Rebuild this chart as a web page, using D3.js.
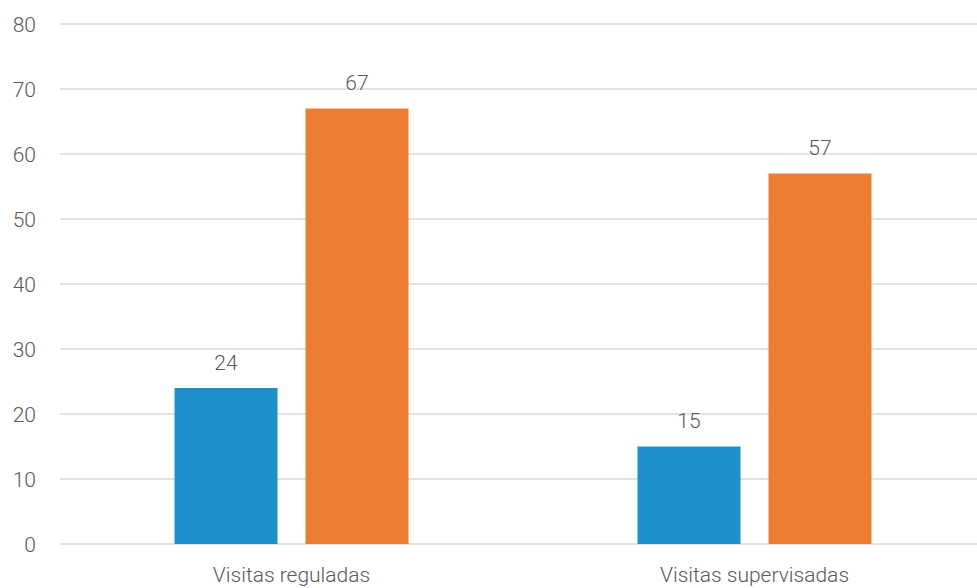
<!DOCTYPE html>
<html><head><meta charset="utf-8">
<script src="https://cdn.jsdelivr.net/npm/d3@7"></script>
<style>body{margin:0;background:#fff}svg{display:block}</style>
</head><body>
<svg id="c" width="977" height="588"></svg>
<script>
const categories = ["Visitas reguladas", "Visitas supervisadas"];
const series1 = [24, 15];
const series2 = [67, 57];
const yTicks = [0, 10, 20, 30, 40, 50, 60, 70, 80];
const colors = ["#1f90c9", "#ed7d31"];

(function () {
const svg = d3.select("#c");
const mLeft = 60, mRight = 986, mTop = 24, mBottom = 544;
const x = d3.scaleBand().domain(categories).range([mLeft, mRight]);
const y = d3.scaleLinear().domain([0, 80]).range([mBottom, mTop]);
const font = "Roboto, 'Open Sans', sans-serif";
const textCol = "#595959";
const fw = 300;

svg.append("g").selectAll("line").data(yTicks).join("line")
  .attr("x1", mLeft).attr("x2", 977)
  .attr("y1", d => y(d)).attr("y2", d => y(d))
  .attr("stroke", "#d9d9d9").attr("stroke-width", 1.5);

svg.append("g").selectAll("text").data(yTicks).join("text")
  .attr("x", 36).attr("y", d => y(d)).attr("dy", "0.36em")
  .attr("text-anchor", "end").attr("font-family", font).attr("font-size", 21)
  .attr("font-weight", fw).attr("fill", textCol).text(d => d);

const bw = 103, gap = 28;
const data = [];
categories.forEach((c, i) => {
  data.push({c, v: series1[i], s: 0});
  data.push({c, v: series2[i], s: 1});
});
const cx = d => x(d.c) + x.bandwidth() / 2 + (d.s === 0 ? -(gap / 2 + bw) : gap / 2);

svg.append("g").selectAll("rect").data(data).join("rect")
  .attr("x", cx).attr("width", bw)
  .attr("y", d => y(d.v)).attr("height", d => y(0) - y(d.v))
  .attr("fill", d => colors[d.s]);

svg.append("g").selectAll("text").data(data).join("text")
  .attr("x", d => cx(d) + bw / 2).attr("y", d => y(d.v) - 18.5)
  .attr("text-anchor", "middle").attr("font-family", font).attr("font-size", 21)
  .attr("font-weight", fw).attr("fill", textCol).text(d => d.v);

svg.append("g").selectAll("text").data(categories).join("text")
  .attr("x", d => x(d) + x.bandwidth() / 2).attr("y", 582)
  .attr("text-anchor", "middle").attr("font-family", font).attr("font-size", 21)
  .attr("font-weight", fw).attr("fill", textCol).text(d => d);
})();
</script>
</body></html>
